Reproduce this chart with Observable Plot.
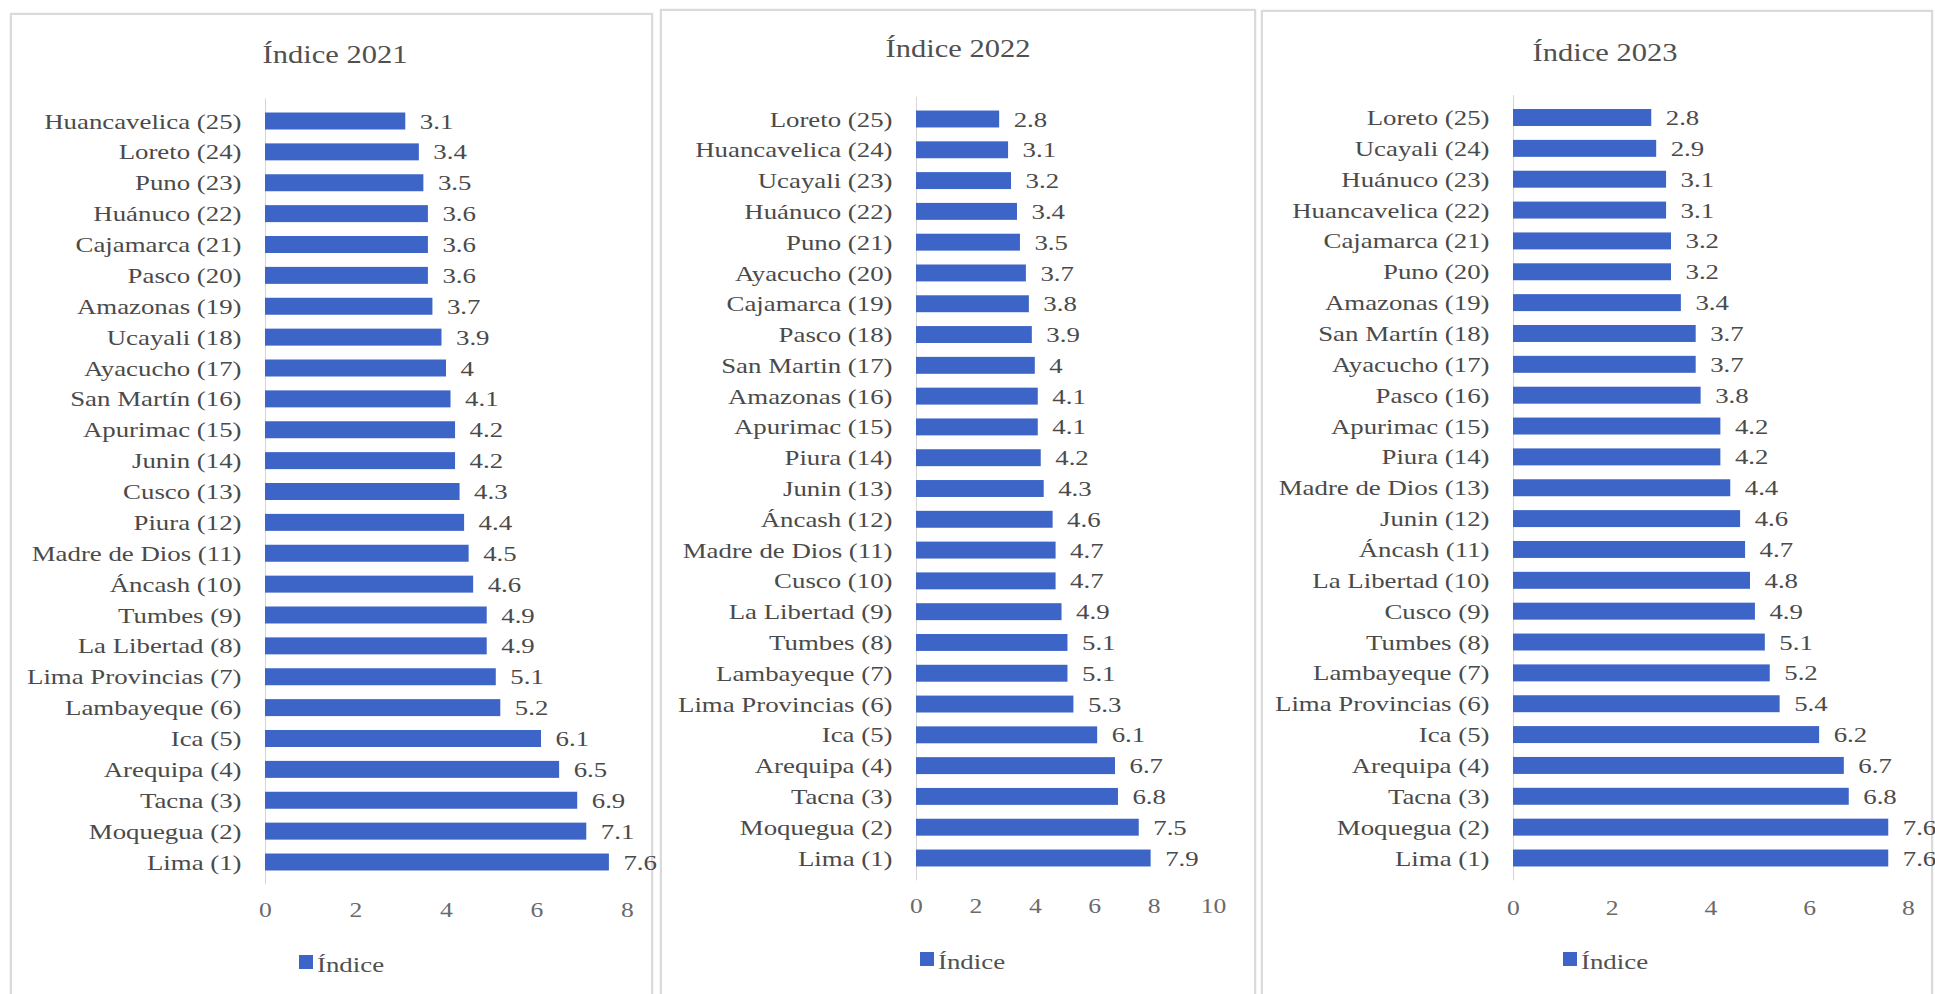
<!DOCTYPE html>
<html><head><meta charset="utf-8">
<script src="https://cdn.jsdelivr.net/npm/d3@7"></script>
<script src="https://cdn.jsdelivr.net/npm/@observablehq/plot@0.6"></script>
<style>
html,body{margin:0;padding:0;background:#fff;width:1935px;height:994px;overflow:hidden;}
#root{position:relative;width:1935px;height:994px;}
.panel{position:absolute;border:2px solid #dadada;box-sizing:border-box;background:#fff;box-shadow:0 0 2px #e6e6e6;}
.title{position:absolute;font-family:"Liberation Serif","Times New Roman",serif;font-size:25px;line-height:25px;color:#505050;white-space:nowrap;}
.lgsq{position:absolute;width:14px;height:14px;}
.lgtx{position:absolute;font-family:"Liberation Serif","Times New Roman",serif;font-size:22px;line-height:22px;color:#505050;white-space:nowrap;transform-origin:0 50%;}
.plotsvg{position:absolute;top:0;}
</style>
</head><body><div id="root"></div>
<script>
// ---- data ----
const titles = ["Índice 2021", "Índice 2022", "Índice 2023"];
const legendLabel = "Índice";

const regions2021 = ["Huancavelica (25)","Loreto (24)","Puno (23)","Huánuco (22)","Cajamarca (21)","Pasco (20)","Amazonas (19)","Ucayali (18)","Ayacucho (17)","San Martín (16)","Apurimac (15)","Junin (14)","Cusco (13)","Piura (12)","Madre de Dios (11)","Áncash (10)","Tumbes (9)","La Libertad (8)","Lima Provincias (7)","Lambayeque (6)","Ica (5)","Arequipa (4)","Tacna (3)","Moquegua (2)","Lima (1)"];
const values2021 = [3.1,3.4,3.5,3.6,3.6,3.6,3.7,3.9,4,4.1,4.2,4.2,4.3,4.4,4.5,4.6,4.9,4.9,5.1,5.2,6.1,6.5,6.9,7.1,7.6];

const regions2022 = ["Loreto (25)","Huancavelica (24)","Ucayali (23)","Huánuco (22)","Puno (21)","Ayacucho (20)","Cajamarca (19)","Pasco (18)","San Martin (17)","Amazonas (16)","Apurimac (15)","Piura (14)","Junin (13)","Áncash (12)","Madre de Dios (11)","Cusco (10)","La Libertad (9)","Tumbes (8)","Lambayeque (7)","Lima Provincias (6)","Ica (5)","Arequipa (4)","Tacna (3)","Moquegua (2)","Lima (1)"];
const values2022 = [2.8,3.1,3.2,3.4,3.5,3.7,3.8,3.9,4,4.1,4.1,4.2,4.3,4.6,4.7,4.7,4.9,5.1,5.1,5.3,6.1,6.7,6.8,7.5,7.9];

const regions2023 = ["Loreto (25)","Ucayali (24)","Huánuco (23)","Huancavelica (22)","Cajamarca (21)","Puno (20)","Amazonas (19)","San Martín (18)","Ayacucho (17)","Pasco (16)","Apurimac (15)","Piura (14)","Madre de Dios (13)","Junin (12)","Áncash (11)","La Libertad (10)","Cusco (9)","Tumbes (8)","Lambayeque (7)","Lima Provincias (6)","Ica (5)","Arequipa (4)","Tacna (3)","Moquegua (2)","Lima (1)"];
const values2023 = [2.8,2.9,3.1,3.1,3.2,3.2,3.4,3.7,3.7,3.8,4.2,4.2,4.4,4.6,4.7,4.8,4.9,5.1,5.2,5.4,6.2,6.7,6.8,7.6,7.6];

const ticks2021 = [0,2,4,6,8];
const ticks2022 = [0,2,4,6,8,10];
const ticks2023 = [0,2,4,6,8];

// ---- layout ----
const BAR = "#3d65c7";
const SX = 1.22;           // horizontal stretch of the reference's lettering
const H = 940;
const PAD = 0.45;
const panels = [
  {regions: regions2021, values: values2021, ticks: ticks2021, title: titles[0],
   left: 10, top: 13, right: 653, zero: 265, maxX: 627, c0: 121, cN: 862, tickPad: 17,
   titleX: 335, titleBase: 63, lgX: 299, lgY: 955},
  {regions: regions2022, values: values2022, ticks: ticks2022, title: titles[1],
   left: 660, top: 9, right: 1256, zero: 916, maxX: 1213, c0: 119, cN: 858, tickPad: 17,
   titleX: 958, titleBase: 57, lgX: 920, lgY: 952},
  {regions: regions2023, values: values2023, ticks: ticks2023, title: titles[2],
   left: 1261, top: 10, right: 1933, zero: 1513, maxX: 1908, c0: 117.5, cN: 858, tickPad: 19,
   titleX: 1605, titleBase: 61, lgX: 1563, lgY: 952}
];

const root = document.getElementById("root");
const FONT = '"Liberation Serif","Times New Roman",serif';

function stretchTexts(svg) {
  svg.querySelectorAll("text").forEach(t => {
    const tr = t.getAttribute("transform");
    if (tr) t.setAttribute("transform", `${tr} scale(${SX},1)`);
  });
}

for (const p of panels) {
  const box = document.createElement("div");
  box.className = "panel";
  box.style.left = p.left + "px";
  box.style.top = p.top + "px";
  box.style.width = (p.right - p.left) + "px";
  box.style.height = (1000 - p.top) + "px";
  root.appendChild(box);

  const W = (p === panels[2] ? 1935 : p.right) - p.left;
  const step = (p.cN - p.c0) / (p.regions.length - 1);
  const rs = p.c0 - step * (1 + PAD) / 2;
  const re = p.cN + step * (1 + PAD) / 2;
  const data = p.regions.map((n, i) => ({n, v: p.values[i]}));

  const svg = Plot.plot({
    width: W, height: H,
    marginLeft: p.zero - p.left,
    marginRight: W - (p.maxX - p.left),
    marginTop: rs, marginBottom: H - re,
    x: {domain: [0, p.ticks[p.ticks.length - 1]]},
    y: {domain: p.regions, padding: PAD, round: false},
    style: {fontFamily: FONT, fontSize: "22px", background: "transparent", overflow: "visible", color: "#4a4a4a"},
    marks: [
      Plot.ruleX([0], {stroke: "#d6d6d6", strokeWidth: 1}),
      Plot.barX(data, {x: "v", y: "n", fill: BAR}),
      Plot.text(data, {x: "v", y: "n", text: d => String(d.v), dx: 14, textAnchor: "start", fontSize: 22, fill: "#4a4a4a"}),
      Plot.axisX({ticks: p.ticks, tickSize: 0, tickPadding: p.tickPad, fontSize: 21, color: "#6a6a6a", label: null, tickFormat: d => String(d)}),
      Plot.axisY({tickSize: 0, tickPadding: 24, fontSize: 22, color: "#4a4a4a", label: null})
    ]
  });
  svg.classList.add("plotsvg");
  svg.style.left = p.left + "px";
  stretchTexts(svg);
  root.appendChild(svg);

  const t = document.createElement("div");
  t.className = "title";
  t.textContent = p.title;
  t.style.left = p.titleX + "px";
  t.style.top = (p.titleBase - 21) + "px";
  t.style.transform = `translateX(-50%) scaleX(${SX})`;
  root.appendChild(t);

  const sq = document.createElement("div");
  sq.className = "lgsq";
  sq.style.background = BAR;
  sq.style.left = p.lgX + "px";
  sq.style.top = p.lgY + "px";
  root.appendChild(sq);

  const lt = document.createElement("div");
  lt.className = "lgtx";
  lt.textContent = legendLabel;
  lt.style.left = (p.lgX + 18) + "px";
  lt.style.top = (p.lgY - 1.5) + "px";
  lt.style.transform = `scaleX(${SX})`;
  root.appendChild(lt);
}
</script>
</body></html>
